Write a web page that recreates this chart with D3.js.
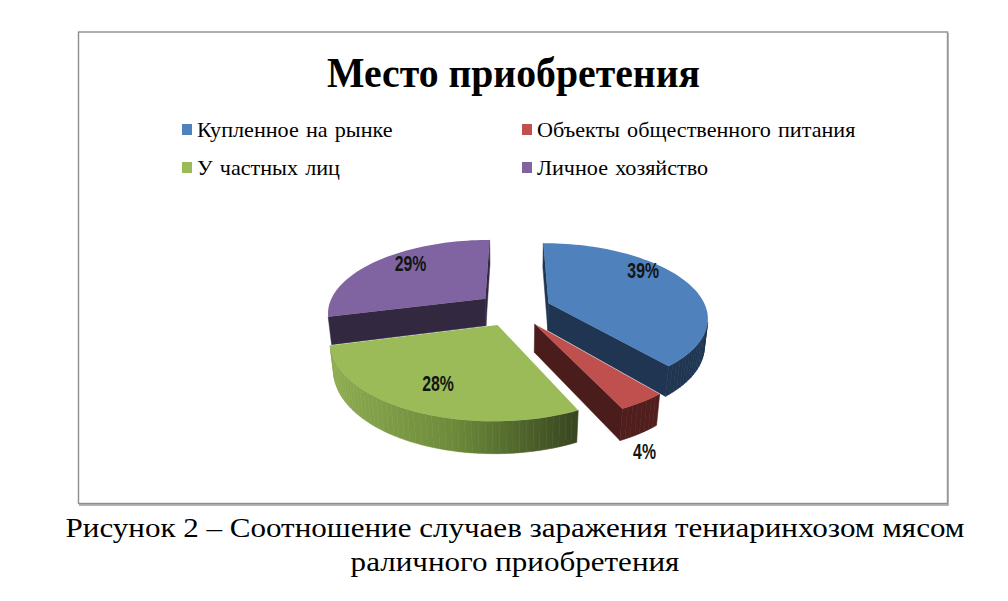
<!DOCTYPE html>
<html>
<head>
<meta charset="utf-8">
<script src="https://cdn.jsdelivr.net/npm/d3@7"></script>
<style>
  html, body { margin: 0; padding: 0; background: #fff; }
  svg { display: block; }
</style>
</head>
<body>
<svg id="stage" width="1008" height="601"></svg>
<script>
const categories = ["Купленное на рынке", "Объекты общественного питания", "У частных лиц", "Личное хозяйство"];
const values = [39, 4, 28, 29];
const labels = ["39%", "4%", "28%", "29%"];
const title = "Место приобретения";
const caption = ["Рисунок 2 – Соотношение случаев заражения тениаринхозом мясом", "раличного приобретения"];

const topColors = ["#4f81bd", "#c0504d", "#9bbb59", "#8064a2"];
const sideColors = ["#1f3551", "#4f1e1d", "url(#greenRim)", "#322840"];
const wallColors = ["#1f3551", "#4a1c1b", "#5a7231", "#322840"];

const width = 1008, height = 601;

// 3d view
const cx = 514, cy = 309;
const camD = 5;
const elev = Math.asin(0.46);
const F = 790;
const depthH = 0.2;
const explode = 0.235;
// label anchor: fraction along slice, radius, height
const labelFrac = [0.38, 0.5, 0.5, 0.57];
const labelR = [0.85, 1.05, 0.72, 0.78];
const labelZ = [0, -depthH - 0.085, 0, 0];

const svg = d3.select("#stage");

function project(u, w, z){
  const dep = camD + w*Math.cos(elev) - z*Math.sin(elev);
  const sy = w*Math.sin(elev) + z*Math.cos(elev);
  return [cx + F*u/dep, cy - F*sy/dep];
}

const cam = [0, -camD*Math.cos(elev), camD*Math.sin(elev)];
function facing(p, n){
  return (p[0]-cam[0])*n[0] + (p[1]-cam[1])*n[1] + (p[2]-cam[2])*n[2] < 0;
}

const pie = d3.pie().sort(null).value(d => d);
const arcs = pie(values);

const defs = svg.append("defs");
const grad = defs.append("linearGradient")
  .attr("id","greenRim")
  .attr("gradientUnits","userSpaceOnUse")
  .attr("x1",335).attr("x2",575).attr("y1",0).attr("y2",0);
grad.append("stop").attr("offset","0%").attr("stop-color","#8dab50");
grad.append("stop").attr("offset","50%").attr("stop-color","#6c8a3a");
grad.append("stop").attr("offset","100%").attr("stop-color","#394720");

// frame
svg.append("rect")
  .attr("x",78.5).attr("y",32)
  .attr("width",869).attr("height",471.5)
  .attr("fill","#fff")
  .attr("stroke","#8e8e8e")
  .attr("stroke-width",1.4);
svg.append("path")
  .attr("d","M948,33 V505 H79")
  .attr("fill","none")
  .attr("stroke","#9a9a9a")
  .attr("stroke-width",1.4);

svg.append("text")
  .attr("x",513.5).attr("y",87)
  .attr("text-anchor","middle")
  .attr("font-family","Liberation Serif, Times New Roman, serif")
  .attr("font-weight","bold")
  .attr("font-size",42)
  .attr("textLength",373)
  .attr("lengthAdjust","spacingAndGlyphs")
  .text(title);

// legend
const legX = [182, 522];
const legY = [130, 168];
const leg = svg.append("g");
categories.forEach((c,i) => {
  const x = legX[i%2], y = legY[Math.floor(i/2)];
  leg.append("rect")
    .attr("x",x).attr("y",y-6).attr("width",10).attr("height",11)
    .attr("fill",topColors[i]);
  leg.append("text")
    .attr("transform",`translate(${x+15},${y+6.5}) scale(1.08,1)`)
    .attr("font-family","Liberation Serif, Times New Roman, serif")
    .attr("font-size",20.5)
    .attr("word-spacing",1.5)
    .text(c);
});

// pie slices
const slices = arcs.map((a,i) => {
  const mid = (a.startAngle + a.endAngle)/2;
  const ou = explode*Math.sin(mid), ow = explode*Math.cos(mid);
  const dep = camD + ow*Math.cos(elev);
  return {a, i, mid, ou, ow, dep};
});

const g = svg.append("g");
const line = d3.line();

slices.slice().sort((p,q) => q.dep - p.dep).forEach(s => {
  const {a, i, ou, ow} = s;
  const n = Math.max(4, Math.ceil((a.endAngle - a.startAngle)/(Math.PI/90)));
  const angs = d3.range(n+1).map(k => a.startAngle + (a.endAngle - a.startAngle)*k/n);
  const pt = (t, r, z) => project(ou + r*Math.sin(t), ow + r*Math.cos(t), z);

  // radial walls
  [[a.startAngle, -1],[a.endAngle, 1]].forEach(([t, sg]) => {
    const nrm = [sg*Math.cos(t), -sg*Math.sin(t), 0];
    const c = [ou + 0.5*Math.sin(t), ow + 0.5*Math.cos(t), -depthH/2];
    if(!facing(c, nrm)) return;
    g.append("path")
      .attr("d", line([pt(t,0,0), pt(t,1,0), pt(t,1,-depthH), pt(t,0,-depthH)]) + "Z")
      .attr("fill", wallColors[i])
      .attr("stroke", wallColors[i]).attr("stroke-width",0.5);
  });

  // outer rim
  for(let k=0;k<n;k++){
    const t0 = angs[k], t1 = angs[k+1], tm = (t0+t1)/2;
    const nrm = [Math.sin(tm), Math.cos(tm), 0];
    const c = [ou + Math.sin(tm), ow + Math.cos(tm), -depthH/2];
    if(!facing(c, nrm)) continue;
    g.append("path")
      .attr("d", line([pt(t0,1,0), pt(t1,1,0), pt(t1,1,-depthH), pt(t0,1,-depthH)]) + "Z")
      .attr("fill", sideColors[i])
      .attr("stroke", sideColors[i]).attr("stroke-width",0.6);
  }

  // top face
  const top = [pt(0,0,0)].concat(angs.map(t => pt(t,1,0)));
  g.append("path")
    .attr("d", line(top) + "Z")
    .attr("fill", topColors[i]);
});

// data labels
slices.forEach(s => {
  const t = s.a.startAngle + labelFrac[s.i]*(s.a.endAngle - s.a.startAngle);
  const r = labelR[s.i];
  const p = project(s.ou + r*Math.sin(t), s.ow + r*Math.cos(t), labelZ[s.i]);
  g.append("text")
    .attr("transform",`translate(${p[0]},${p[1]}) scale(0.72,1)`)
    .attr("text-anchor","middle")
    .attr("dominant-baseline","central")
    .attr("font-family","Liberation Sans, Arial, sans-serif")
    .attr("font-weight","bold")
    .attr("font-size",22)
    .attr("fill","#141414")
    .text(labels[s.i]);
});

// caption
caption.forEach((t,k) => {
  svg.append("text")
    .attr("transform",`translate(515,${537 + k*34}) scale(1.15,1)`)
    .attr("text-anchor","middle")
    .attr("font-family","Liberation Serif, Times New Roman, serif")
    .attr("font-size",27)
    .text(t);
});
</script>
</body>
</html>
